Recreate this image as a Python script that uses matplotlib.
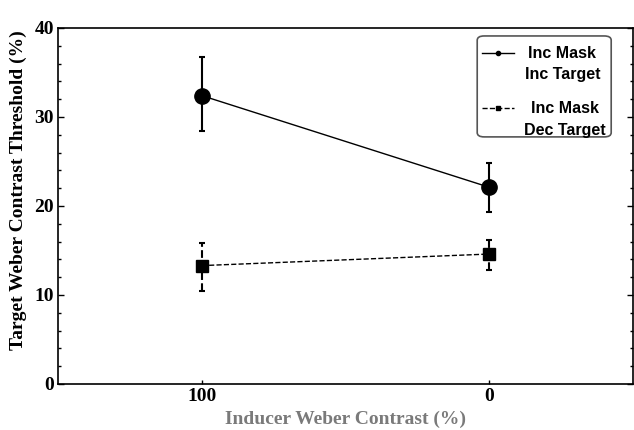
import numpy as np
import matplotlib.pyplot as plt
from matplotlib.lines import Line2D
from matplotlib.patches import FancyBboxPatch
from matplotlib.ticker import MultipleLocator

# Inducer contrast (%) and thresholds (%) with error bars
inducer = [100, 0]
inc_target = [32.4, 22.1]
inc_target_lo = [28.4, 19.3]
inc_target_hi = [36.7, 24.8]
dec_target = [13.3, 14.6]
dec_target_lo = [10.4, 12.8]
dec_target_hi = [15.8, 16.2]

serif = 'Liberation Serif'
sans = 'Liberation Sans'

fig = plt.figure(figsize=(6.34, 4.30), dpi=100)
ax = fig.add_axes([0.0915, 0.107, 0.907, 0.828])

def yerr(vals, lo, hi):
    v = np.array(vals)
    return [v - np.array(lo), np.array(hi) - v]

ax.errorbar(inducer, inc_target, yerr=yerr(inc_target, inc_target_lo, inc_target_hi),
            fmt='-', color='black', lw=1.0, elinewidth=1.5, capsize=2, capthick=1.5,
            marker='o', markersize=11, zorder=3)
eb = ax.errorbar(inducer, dec_target, yerr=yerr(dec_target, dec_target_lo, dec_target_hi),
                 fmt='--', color='black', lw=1.0, elinewidth=1.5, capsize=2, capthick=1.5,
                 marker='s', markersize=9, zorder=3)
eb[2][0].set_linestyle('--')

# hand-built legend box (handle sits beside the first line of each label)
box = FancyBboxPatch((0.729, 0.694), 0.233, 0.2835, transform=ax.transAxes,
                     boxstyle='round,pad=0,rounding_size=0.012',
                     facecolor='white', edgecolor='#555555', lw=1.2, zorder=5)
ax.add_patch(box)
entries = [('-', 'o', 'Inc Mask', 'Inc Target', 0.929, 0.870, 0.877),
           ('--', 's', 'Inc Mask', 'Dec Target', 0.774, 0.712, 0.882)]
for ls, mk, top, bottom, y1, y2, xc in entries:
    ax.add_line(Line2D([0.737, 0.793], [y1, y1], transform=ax.transAxes, color='black',
                       lw=1.0, ls=ls, zorder=6))
    ax.add_line(Line2D([0.765], [y1], transform=ax.transAxes, color='black',
                       marker=mk, markersize=3, zorder=6))
    for txt, yy in ((top, y1), (bottom, y2)):
        ax.text(xc, yy, txt, transform=ax.transAxes, ha='center', va='center',
                family=sans, weight='bold', fontsize=11.5, zorder=6)

ax.set_xlim(150, -50)
ax.set_ylim(0, 40)
ax.set_xticks([100, 0])
ax.set_xticklabels(['100', '0'])
ax.set_yticks([0, 10, 20, 30, 40])
ax.yaxis.set_minor_locator(MultipleLocator(2))
ax.tick_params(axis='both', which='both', direction='in', right=True)
ax.tick_params(axis='y', which='major', length=4, width=1)
ax.tick_params(axis='y', which='minor', length=2, width=1)
ax.tick_params(axis='x', which='major', length=3, width=1)
ax.tick_params(axis='both', pad=3)
for lbl in ax.get_xticklabels() + ax.get_yticklabels():
    lbl.set_fontfamily(serif)
    lbl.set_fontweight('bold')
    lbl.set_fontsize(14)
for s in ax.spines.values():
    s.set_linewidth(1.2)

ax.set_ylabel('Target Weber Contrast Threshold (%)', family=serif, weight='bold',
              fontsize=14)
ax.yaxis.set_label_coords(-0.054, 0.545)
ax.set_xlabel('Inducer Weber Contrast (%)', family=serif, weight='bold',
              fontsize=14, color='#7a7a7a', labelpad=4)

fig.savefig('out.png', dpi=100)
